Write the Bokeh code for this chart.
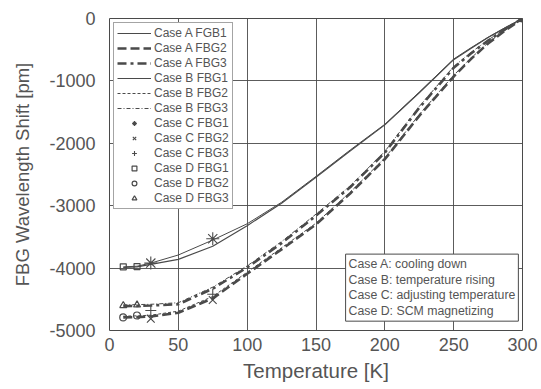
from bokeh.plotting import figure
from bokeh.models import Legend, LegendItem, Label, FixedTicker
from bokeh.embed import file_html
from bokeh.resources import INLINE

# ---- data ----
T = [10, 20, 30, 50, 75, 100, 125, 150, 175, 200, 225, 250, 262.5, 275, 287.5, 300]
a_fbg1 = [-3990, -3980, -3940, -3860, -3650, -3320, -2960, -2545, -2120, -1705, -1190, -660, -480, -305, -150, 0]
a_fbg2 = [-4790, -4785, -4775, -4715, -4485, -4090, -3700, -3300, -2800, -2255, -1560, -930, -650, -400, -190, 0]
a_fbg3 = [-4610, -4605, -4600, -4580, -4330, -3990, -3600, -3160, -2700, -2150, -1430, -790, -560, -355, -170, 0]
b_fbg1 = [-3980, -3970, -3920, -3790, -3550, -3290, -2945, -2530, -2105, -1695, -1180, -650, -470, -300, -145, 0]
b_fbg2 = [-4770, -4765, -4755, -4690, -4455, -4065, -3675, -3280, -2780, -2235, -1540, -910, -635, -390, -185, 0]
b_fbg3 = [-4590, -4585, -4580, -4555, -4305, -3965, -3575, -3135, -2680, -2130, -1410, -770, -545, -345, -165, 0]

c_T = [30, 75]
c_fbg1 = [-3920, -3530]
c_fbg2 = [-4810, -4510]
c_fbg3 = [-4680, -4420]

d_T = [10, 20, 300]
d_fbg1 = [-3980, -3975, 0]
d_fbg2 = [-4790, -4760, 0]
d_fbg3 = [-4600, -4590, 0]

x_ticks = [0, 50, 100, 150, 200, 250, 300]
y_ticks = [0, -1000, -2000, -3000, -4000, -5000]
y_tick_labels = ["0", "-1000", "-2000", "-3000", "-4000", "-5000"]

case_notes = ["Case A: cooling down", "Case B: temperature rising",
              "Case C: adjusting temperature", "Case D: SCM magnetizing"]

# ---- styling ----
INK = "#4a4a4a"
TXT = "#555555"
FONT = "Liberation Sans"

p = figure(width=541, height=389, x_range=(0, 300), y_range=(-5000, 0),
           output_backend="svg", toolbar_location=None,
           min_border_left=109, min_border_right=19, min_border_top=18,
           min_border_bottom=59)
p.background_fill_color = "white"
p.border_fill_color = "white"
p.outline_line_color = INK
p.outline_line_width = 1

p.xaxis.ticker = FixedTicker(ticks=x_ticks)
p.yaxis.ticker = FixedTicker(ticks=y_ticks)
p.yaxis.major_label_overrides = {t: s for t, s in zip(y_ticks, y_tick_labels)}
for ax in (p.xaxis, p.yaxis):
    ax.axis_line_color = None
    ax.major_tick_line_color = None
    ax.minor_tick_line_color = None
    ax.major_label_text_font = FONT
    ax.major_label_text_font_size = "18px"
    ax.major_label_text_color = TXT
    ax.axis_label_text_font = FONT
    ax.axis_label_text_font_style = "normal"
    ax.axis_label_text_color = TXT
p.xaxis.axis_label = "Temperature [K]"
p.yaxis.axis_label = "FBG Wavelength Shift [pm]"
p.xaxis.axis_label_text_font_size = "20.5px"
p.yaxis.axis_label_text_font_size = "18.5px"
p.xaxis.major_label_standoff = 1
p.xaxis.axis_label_standoff = 5
p.yaxis.major_label_standoff = 8
p.yaxis.axis_label_standoff = 13

p.grid.grid_line_color = INK
p.grid.grid_line_alpha = 0.9
p.grid.grid_line_width = 1

r_a1 = p.line(T, a_fbg1, line_color=INK, line_width=1.2)
r_a2 = p.line(T, a_fbg2, line_color=INK, line_width=2.6, line_dash="9 4")
r_a3 = p.line(T, a_fbg3, line_color=INK, line_width=2.6, line_dash="9 4 3 4")
r_b1 = p.line(T, b_fbg1, line_color=INK, line_width=1.0)
r_b2 = p.line(T, b_fbg2, line_color=INK, line_width=1.0, line_dash="3 2")
r_b3 = p.line(T, b_fbg3, line_color=INK, line_width=1.0, line_dash="4 2 1 2")

r_c1 = p.scatter(c_T, c_fbg1, marker="asterisk", size=13, line_color=INK, line_width=1.1)
r_c2 = p.scatter(c_T, c_fbg2, marker="x", size=11, line_color=INK, line_width=1.1)
r_c3 = p.scatter(c_T, c_fbg3, marker="cross", size=11, line_color=INK, line_width=1.1)
r_d1 = p.scatter(d_T, d_fbg1, marker="square", size=6, line_color=INK, fill_color=None, line_width=1.2)
r_d2 = p.scatter(d_T, d_fbg2, marker="circle", size=7, line_color=INK, fill_color=None, line_width=1.2)
r_d3 = p.scatter(d_T, d_fbg3, marker="triangle", size=7, line_color=INK, fill_color=None, line_width=1.2)

names = ["Case A FGB1", "Case A FBG2", "Case A FBG3",
         "Case B FBG1", "Case B FBG2", "Case B FBG3",
         "Case C FBG1", "Case C FBG2", "Case C FBG3",
         "Case D FBG1", "Case D FBG2", "Case D FBG3"]
rends = [r_a1, r_a2, r_a3, r_b1, r_b2, r_b3, r_c1, r_c2, r_c3, r_d1, r_d2, r_d3]
legend = Legend(items=[LegendItem(label=n, renderers=[r]) for n, r in zip(names, rends)],
                location="top_left", margin=4, padding=3, spacing=1,
                glyph_width=34, glyph_height=12, label_height=12, label_standoff=3,
                label_text_font=FONT, label_text_font_size="12px", label_text_color=TXT,
                border_line_color=INK, border_line_width=1,
                background_fill_color="white", background_fill_alpha=1.0)
p.add_layout(legend)

note = Label(x=171.5, y=-3776, text="\n".join(case_notes), anchor="top_left",
             text_font=FONT, text_font_size="12.3px", text_color=TXT,
             text_line_height=1.12,
             border_line_color=INK, border_line_width=1,
             background_fill_color="white", background_fill_alpha=1.0,
             padding=3)
p.add_layout(note)

open("out.html", "w").write(file_html(p, INLINE))
